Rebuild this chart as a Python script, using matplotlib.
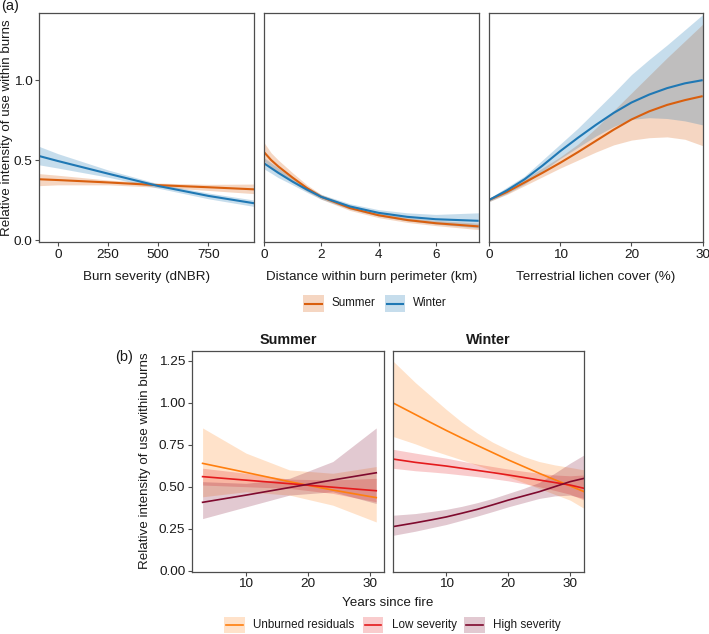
import matplotlib
matplotlib.use("Agg")
import matplotlib.pyplot as plt
from matplotlib.patches import Rectangle
from matplotlib.lines import Line2D

plt.rcParams['font.family'] = ['Liberation Sans', 'DejaVu Sans']

# ---------------- data: panel (a) ----------------
sev_x = [-93, 0, 250, 500, 750, 978]
sev_win = [0.525, 0.494, 0.415, 0.338, 0.276, 0.23]
sev_win_lo = [0.47, 0.45, 0.393, 0.324, 0.258, 0.21]
sev_win_hi = [0.585, 0.54, 0.438, 0.352, 0.294, 0.25]
sev_sum = [0.38, 0.375, 0.36, 0.343, 0.33, 0.317]
sev_sum_lo = [0.34, 0.345, 0.345, 0.33, 0.31, 0.29]
sev_sum_hi = [0.415, 0.405, 0.375, 0.356, 0.348, 0.35]

dist_x = [0, 0.25, 0.5, 1, 1.5, 2, 3, 4, 5, 6, 7.5]
dist_sum = [0.55, 0.50, 0.46, 0.39, 0.325, 0.27, 0.2, 0.155, 0.125, 0.105, 0.085]
dist_sum_lo = [0.495, 0.455, 0.42, 0.36, 0.305, 0.255, 0.185, 0.14, 0.11, 0.09, 0.065]
dist_sum_hi = [0.61, 0.545, 0.5, 0.42, 0.345, 0.285, 0.215, 0.17, 0.14, 0.122, 0.105]
dist_win = [0.48, 0.45, 0.42, 0.365, 0.315, 0.27, 0.21, 0.17, 0.145, 0.13, 0.12]
dist_win_lo = [0.445, 0.418, 0.39, 0.345, 0.298, 0.255, 0.193, 0.15, 0.12, 0.1, 0.075]
dist_win_hi = [0.515, 0.482, 0.45, 0.385, 0.332, 0.285, 0.227, 0.19, 0.17, 0.16, 0.17]

lich_x = [0, 2.5, 5, 7.5, 10, 12.5, 15, 17.5, 20, 22.5, 25, 27.5, 30]
lich_win = [0.25, 0.31, 0.38, 0.465, 0.556, 0.64, 0.72, 0.795, 0.86, 0.91, 0.95, 0.98, 1.0]
lich_win_lo = [0.24, 0.29, 0.35, 0.43, 0.51, 0.58, 0.65, 0.71, 0.755, 0.765, 0.76, 0.745, 0.72]
lich_win_hi = [0.26, 0.33, 0.40, 0.50, 0.60, 0.70, 0.81, 0.92, 1.035, 1.13, 1.22, 1.315, 1.41]
lich_sum = [0.25, 0.30, 0.36, 0.42, 0.483, 0.55, 0.62, 0.69, 0.754, 0.805, 0.845, 0.875, 0.90]
lich_sum_lo = [0.24, 0.285, 0.34, 0.395, 0.45, 0.50, 0.55, 0.595, 0.625, 0.64, 0.645, 0.63, 0.59]
lich_sum_hi = [0.26, 0.315, 0.38, 0.45, 0.52, 0.60, 0.70, 0.81, 0.92, 1.03, 1.14, 1.245, 1.35]

# ---------------- data: panel (b) ----------------
yrs_sum = [3, 10, 17, 24, 31]
s_unb = [0.639, 0.585, 0.53, 0.48, 0.435]
s_unb_lo = [0.44, 0.47, 0.45, 0.39, 0.29]
s_unb_hi = [0.85, 0.70, 0.60, 0.58, 0.62]
s_low = [0.56, 0.539, 0.518, 0.497, 0.476]
s_low_lo = [0.51, 0.50, 0.49, 0.46, 0.41]
s_low_hi = [0.61, 0.58, 0.545, 0.54, 0.55]
s_high = [0.407, 0.45, 0.495, 0.54, 0.583]
s_high_lo = [0.31, 0.38, 0.45, 0.47, 0.40]
s_high_hi = [0.53, 0.52, 0.55, 0.65, 0.85]

yrs_win = [1.34, 5, 7.5, 10, 12.5, 15, 17.5, 20, 22.5, 25, 27.5, 30, 32.3]
w_unb = [1.0, 0.93, 0.882, 0.835, 0.79, 0.746, 0.703, 0.66, 0.62, 0.58, 0.542, 0.505, 0.47]
w_unb_lo = [0.80, 0.755, 0.72, 0.69, 0.66, 0.628, 0.595, 0.56, 0.525, 0.49, 0.455, 0.42, 0.37]
w_unb_hi = [1.25, 1.12, 1.04, 0.96, 0.885, 0.82, 0.765, 0.72, 0.68, 0.65, 0.63, 0.615, 0.60]
w_low = [0.665, 0.645, 0.634, 0.623, 0.61, 0.597, 0.584, 0.57, 0.555, 0.54, 0.525, 0.51, 0.49]
w_low_lo = [0.61, 0.595, 0.588, 0.58, 0.57, 0.56, 0.548, 0.535, 0.518, 0.50, 0.478, 0.455, 0.42]
w_low_hi = [0.723, 0.70, 0.685, 0.67, 0.652, 0.635, 0.62, 0.605, 0.592, 0.58, 0.57, 0.565, 0.57]
w_high = [0.262, 0.285, 0.302, 0.32, 0.342, 0.365, 0.392, 0.42, 0.445, 0.47, 0.5, 0.53, 0.55]
w_high_lo = [0.21, 0.235, 0.255, 0.275, 0.30, 0.325, 0.352, 0.38, 0.405, 0.43, 0.445, 0.45, 0.43]
w_high_hi = [0.33, 0.34, 0.352, 0.365, 0.383, 0.405, 0.43, 0.46, 0.49, 0.525, 0.58, 0.64, 0.69]

season_labels = ["Summer", "Winter"]
class_labels = ["Unburned residuals", "Low severity", "High severity"]
ylabel = "Relative intensity of use within burns"

# ---------------- styles ----------------
C_SUM = "#D95F0E"
C_WIN = "#1F78B4"
C_UNB = "#FF7F0E"
C_LOW = "#E41A1C"
C_HIGH = "#7F0A2E"
A_TOP = 0.25
A_BOT = 0.22
EDGE = "#4D4D4D"
TXT = "#1A1A1A"

W, H = 709, 634
fig = plt.figure(figsize=(W / 100, H / 100), dpi=100)


def ax_px(x0, y0, x1, y1):
    return fig.add_axes([x0 / W, 1 - y1 / H, (x1 - x0) / W, (y1 - y0) / H])


def style(ax, show_y=True):
    for s in ax.spines.values():
        s.set_color(EDGE)
        s.set_linewidth(0.9)
    ax.tick_params(axis='both', direction='out', length=3, width=0.8,
                   color=EDGE, labelsize=9.7, labelcolor=TXT, pad=2,
                   top=False, right=False)
    if not show_y:
        ax.tick_params(axis='y', left=False, labelleft=False)


# ---- top row ----
top_y0, top_y1 = 13, 242
axes_top = [ax_px(39.3, top_y0, 254, top_y1),
            ax_px(264, top_y0, 478.7, top_y1),
            ax_px(489, top_y0, 702.7, top_y1)]
top_sets = [
    (sev_x, sev_sum, sev_sum_lo, sev_sum_hi, sev_win, sev_win_lo, sev_win_hi,
     "Burn severity (dNBR)", (-93, 978), [0, 250, 500, 750]),
    (dist_x, dist_sum, dist_sum_lo, dist_sum_hi, dist_win, dist_win_lo, dist_win_hi,
     "Distance within burn perimeter (km)", (0, 7.5), [0, 2, 4, 6]),
    (lich_x, lich_sum, lich_sum_lo, lich_sum_hi, lich_win, lich_win_lo, lich_win_hi,
     "Terrestrial lichen cover (%)", (0, 30), [0, 10, 20, 30]),
]
for i, (ax, d) in enumerate(zip(axes_top, top_sets)):
    x, sm, slo, shi, wm, wlo, whi, xl, xlim, xt = d
    ax.fill_between(x, slo, shi, color=C_SUM, alpha=A_TOP, linewidth=0)
    ax.fill_between(x, wlo, whi, color=C_WIN, alpha=A_TOP, linewidth=0)
    ax.plot(x, sm, color=C_SUM, lw=1.5, solid_capstyle='butt')
    ax.plot(x, wm, color=C_WIN, lw=1.5, solid_capstyle='butt')
    ax.set_xlim(*xlim)
    ax.set_ylim(-0.0125, 1.42)
    ax.set_xticks(xt)
    ax.set_yticks([0.0, 0.5, 1.0])
    ax.set_yticklabels(["0.0", "0.5", "1.0"])
    ax.set_xlabel(xl, fontsize=9.6, color=TXT, labelpad=7)
    style(ax, show_y=(i == 0))
fig.text(7.5 / W, 1 - 127.5 / H, ylabel, fontsize=9.6, color=TXT,
         rotation=90, ha='center', va='center')

# ---- bottom row ----
bot_y0, bot_y1 = 350.7, 571.5
ax_s = ax_px(192.3, bot_y0, 384.3, bot_y1)
ax_w = ax_px(392.7, bot_y0, 584.3, bot_y1)
bot_sets = [
    (ax_s, yrs_sum, [(s_unb, s_unb_lo, s_unb_hi, C_UNB),
                     (s_low, s_low_lo, s_low_hi, C_LOW),
                     (s_high, s_high_lo, s_high_hi, C_HIGH)]),
    (ax_w, yrs_win, [(w_unb, w_unb_lo, w_unb_hi, C_UNB),
                     (w_low, w_low_lo, w_low_hi, C_LOW),
                     (w_high, w_high_lo, w_high_hi, C_HIGH)]),
]
for j, (ax, x, series) in enumerate(bot_sets):
    for m, lo, hi, c in series:
        ax.fill_between(x, lo, hi, color=c, alpha=A_BOT, linewidth=0)
    for m, lo, hi, c in series:
        ax.plot(x, m, color=c, lw=1.2)
    ax.set_xlim(1.34, 32.3)
    ax.set_ylim(-0.005, 1.31)
    ax.set_xticks([10, 20, 30])
    ax.set_yticks([0.0, 0.25, 0.5, 0.75, 1.0, 1.25])
    ax.set_yticklabels(["0.00", "0.25", "0.50", "0.75", "1.00", "1.25"])
    ax.set_title(season_labels[j], fontsize=10.4, fontweight='bold', color=TXT, pad=5)
    style(ax, show_y=(j == 0))
fig.text(145 / W, 1 - 461 / H, ylabel, fontsize=9.6, color=TXT,
         rotation=90, ha='center', va='center')
fig.text(388 / W, 1 - 603 / H, "Years since fire", fontsize=9.6, color=TXT,
         ha='center', va='center')

# ---- panel letters ----
fig.text(1 / W, 1 - 6 / H, "(a)", fontsize=10.5, color=TXT, ha='left', va='center')
fig.text(115 / W, 1 - 357 / H, "(b)", fontsize=10.5, color=TXT, ha='left', va='center')


# ---- legends ----
def key(x0, x1, yc, hgt, color, alpha, lw, label, tx):
    fig.add_artist(Rectangle((x0 / W, 1 - (yc + hgt / 2) / H), (x1 - x0) / W, hgt / H,
                             transform=fig.transFigure, facecolor=color, alpha=alpha,
                             edgecolor='none'))
    fig.add_artist(Line2D([(x0 + 2) / W, (x1 - 2) / W], [1 - yc / H, 1 - yc / H],
                          transform=fig.transFigure, color=color, lw=lw))
    fig.text(tx / W, 1 - yc / H, label, fontsize=8.4, color=TXT, ha='left', va='center')


key(303, 324, 303.5, 17, C_SUM, A_TOP, 1.5, season_labels[0], 332)
key(385, 405, 303.5, 17, C_WIN, A_TOP, 1.5, season_labels[1], 413)

key(224, 245, 625, 16, C_UNB, A_BOT, 1.2, class_labels[0], 253)
key(363, 383, 625, 16, C_LOW, A_BOT, 1.2, class_labels[1], 392)
key(464, 485, 625, 16, C_HIGH, A_BOT, 1.2, class_labels[2], 493)

fig.savefig("out.png", dpi=100)
